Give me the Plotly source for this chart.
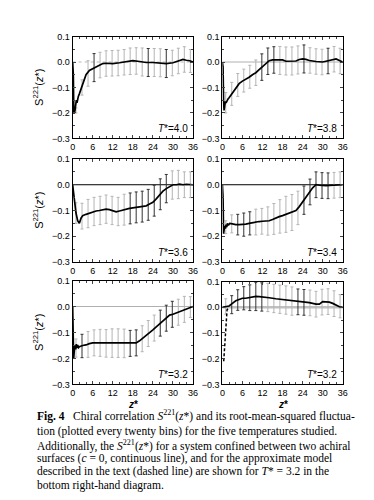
import plotly.graph_objects as go

# ---------------- data ----------------
temps = ["4.0", "3.8", "3.6", "3.4", "3.2", "3.2"]

z1 = [0.0, 0.2, 0.35, 0.5, 0.7, 0.9, 1.1, 1.3, 1.5, 1.7, 2.0, 2.5, 3.0, 3.5, 4.0, 5.0, 6.0, 7.0, 8.0, 9.0, 10, 12, 14, 16, 18, 20, 22, 24, 26, 28, 30, 32, 33, 34, 35, 36]
s1 = [0.0, -0.05, -0.2, -0.2, -0.19, -0.165, -0.15, -0.16, -0.14, -0.135, -0.125, -0.105, -0.085, -0.065, -0.05, -0.033, -0.026, -0.02, -0.012, -0.006, -0.005, -0.006, -0.003, 0.0, 0.005, 0.002, -0.002, -0.002, -0.003, -0.006, -0.003, 0.005, 0.01, 0.007, 0.005, 0.0]

z2 = [0.0, 0.2, 0.35, 0.5, 0.7, 0.9, 1.1, 1.4, 1.7, 2.0, 3.0, 4.0, 5.0, 6.0, 7.0, 8.0, 9.0, 10, 11, 12, 13, 14, 15, 16, 17, 18, 19, 20, 22, 23, 24, 25, 26, 28, 30, 31, 33, 34, 35, 36]
s2 = [0.0, -0.02, -0.15, -0.19, -0.17, -0.155, -0.16, -0.15, -0.145, -0.14, -0.12, -0.1, -0.085, -0.075, -0.068, -0.06, -0.05, -0.042, -0.03, -0.018, -0.005, 0.005, 0.008, 0.008, 0.006, 0.008, 0.003, 0.004, 0.004, 0.01, 0.012, 0.01, 0.006, 0.002, 0.0, 0.003, 0.01, 0.012, 0.006, 0.0]

z3 = [0.0, 0.5, 1.0, 1.5, 2.0, 2.5, 3.0, 4.0, 5.0, 6.0, 7.0, 8.0, 9.0, 10, 11, 12, 13, 14, 15, 16, 17, 18, 19, 20, 21, 22, 23, 24, 25, 26, 27, 28, 29, 30, 31, 32, 33, 34, 36]
s3 = [0.0, -0.06, -0.11, -0.14, -0.15, -0.13, -0.12, -0.115, -0.11, -0.105, -0.102, -0.1, -0.097, -0.095, -0.097, -0.102, -0.105, -0.102, -0.098, -0.095, -0.092, -0.09, -0.088, -0.086, -0.085, -0.082, -0.075, -0.068, -0.055, -0.04, -0.025, -0.015, -0.008, 0.0, 0.0, 0.002, 0.0, 0.002, 0.0]

z4 = [0.0, 0.2, 0.35, 0.5, 0.7, 0.9, 1.1, 1.3, 1.5, 1.8, 2.2, 3.0, 4.0, 5.0, 6.0, 7.0, 8.0, 9.0, 10, 11, 12, 13, 14, 15, 16, 17, 18, 19, 20, 21, 22, 23, 24, 25, 26, 27, 28, 29, 30, 31, 32, 33, 34, 36]
s4 = [0.0, -0.05, -0.19, -0.18, -0.16, -0.17, -0.155, -0.165, -0.15, -0.158, -0.15, -0.152, -0.155, -0.155, -0.155, -0.153, -0.15, -0.147, -0.145, -0.143, -0.142, -0.142, -0.14, -0.135, -0.128, -0.124, -0.12, -0.115, -0.11, -0.107, -0.1, -0.085, -0.065, -0.048, -0.03, -0.012, 0.0, -0.002, -0.004, -0.004, -0.003, -0.002, 0.0, 0.0]

z5 = [0.0, 0.15, 0.3, 0.5, 0.7, 0.9, 1.1, 1.3, 1.5, 1.8, 2.0, 3.0, 4.0, 5.0, 6.0, 7.0, 8.0, 10, 12, 14, 16, 18, 19, 20, 21, 22, 23, 24, 25, 26, 27, 28, 29, 30, 31, 32, 33, 34, 35, 36]
s5 = [0.0, -0.1, -0.2, -0.17, -0.15, -0.165, -0.145, -0.16, -0.148, -0.158, -0.155, -0.15, -0.148, -0.143, -0.14, -0.14, -0.14, -0.142, -0.141, -0.142, -0.142, -0.142, -0.14, -0.132, -0.122, -0.11, -0.1, -0.09, -0.078, -0.066, -0.055, -0.045, -0.033, -0.03, -0.025, -0.02, -0.013, -0.008, -0.003, 0.0]

z6 = [0.0, 1.0, 2.0, 3.0, 4.0, 5.0, 6.0, 7.0, 8.0, 9.0, 10, 11, 12, 14, 16, 18, 20, 22, 24, 26, 28, 29, 30, 31, 32, 33, 34, 35, 36]
s6 = [0.0, 0.003, 0.005, 0.015, 0.025, 0.03, 0.035, 0.035, 0.037, 0.04, 0.042, 0.041, 0.04, 0.037, 0.033, 0.03, 0.025, 0.022, 0.02, 0.018, 0.012, 0.012, 0.022, 0.022, 0.02, 0.015, 0.008, 0.002, 0.0]

# approximate model (dashed line), bottom right panel
z6_model = [0.4, 0.7, 1.0, 1.4, 2.0]
s6_model = [-0.21, -0.14, -0.07, -0.01, 0.0]

# root-mean-squared fluctuation, plotted every twenty bins
zb = [1.0, 2.8, 4.6, 6.4, 8.2, 10.0, 11.8, 13.6, 15.4, 17.2, 19.0, 20.8, 22.6, 24.4, 26.2, 28.0, 29.8, 31.6, 33.4, 35.2]
sb1 = [-0.19, -0.1, -0.045, -0.022, -0.012, -0.006, -0.005, -0.004, -0.001, 0.003, 0.004, 0.0, -0.002, -0.002, -0.003, -0.006, -0.004, 0.004, 0.01, 0.004]
eb1 = [0.01, 0.03, 0.05, 0.055, 0.05, 0.05, 0.05, 0.05, 0.05, 0.052, 0.052, 0.055, 0.055, 0.055, 0.055, 0.055, 0.05, 0.05, 0.05, 0.045]
sb2 = [-0.16, -0.125, -0.09, -0.073, -0.058, -0.042, -0.02, 0.003, 0.008, 0.006, 0.004, 0.004, 0.008, 0.012, 0.006, 0.002, 0.0, 0.004, 0.011, 0.004]
eb2 = [0.04, 0.045, 0.045, 0.045, 0.045, 0.05, 0.052, 0.052, 0.052, 0.055, 0.055, 0.055, 0.055, 0.055, 0.05, 0.05, 0.05, 0.05, 0.05, 0.05]
sb3 = [-0.11, -0.122, -0.112, -0.104, -0.1, -0.095, -0.1, -0.104, -0.097, -0.092, -0.088, -0.085, -0.078, -0.062, -0.037, -0.015, -0.001, 0.001, 0.0, 0.0]
eb3 = [0.04, 0.05, 0.055, 0.055, 0.055, 0.055, 0.055, 0.055, 0.06, 0.06, 0.06, 0.06, 0.06, 0.06, 0.06, 0.055, 0.055, 0.055, 0.05, 0.05]
sb4 = [-0.165, -0.152, -0.155, -0.155, -0.15, -0.145, -0.142, -0.141, -0.133, -0.123, -0.115, -0.108, -0.09, -0.06, -0.028, 0.0, -0.003, -0.004, -0.002, 0.0]
eb4 = [0.025, 0.035, 0.04, 0.045, 0.045, 0.05, 0.05, 0.055, 0.06, 0.065, 0.07, 0.07, 0.065, 0.055, 0.05, 0.05, 0.05, 0.05, 0.05, 0.05]
sb5 = [-0.16, -0.152, -0.146, -0.14, -0.14, -0.142, -0.141, -0.141, -0.142, -0.142, -0.14, -0.124, -0.104, -0.083, -0.064, -0.045, -0.03, -0.022, -0.011, -0.002]
eb5 = [0.035, 0.045, 0.05, 0.05, 0.052, 0.053, 0.055, 0.055, 0.055, 0.05, 0.05, 0.05, 0.05, 0.05, 0.05, 0.05, 0.05, 0.05, 0.05, 0.04]
sb6 = [0.003, 0.01, 0.028, 0.035, 0.037, 0.042, 0.04, 0.038, 0.034, 0.031, 0.028, 0.024, 0.021, 0.019, 0.017, 0.012, 0.02, 0.022, 0.014, 0.004]
eb6 = [0.03, 0.035, 0.04, 0.045, 0.05, 0.055, 0.055, 0.055, 0.055, 0.055, 0.055, 0.055, 0.05, 0.05, 0.05, 0.05, 0.05, 0.05, 0.05, 0.045]

x_ticks = [0, 6, 12, 18, 24, 30, 36]
y_ticks = [0.1, 0.0, -0.1, -0.2, -0.3]
y_tick_text = ["0.1", "0.0", "\u22120.1", "\u22120.2", "\u22120.3"]

curves = [(z1, s1), (z2, s2), (z3, s3), (z4, s4), (z5, s5), (z6, s6)]
bars = [(sb1, eb1), (sb2, eb2), (sb3, eb3), (sb4, eb4), (sb5, eb5), (sb6, eb6)]

# ---------------- layout / styling ----------------
W, H = 374, 500
# panel boxes in pixels (left, right, top, bottom)
boxes = [(63, 186, 24, 128), (216, 339, 24, 128),
         (63, 186, 149, 254), (216, 339, 149, 254),
         (63, 186, 273, 379), (216, 339, 274, 379)]
zero_styles = [dict(color="#b8b8b8", width=1, dash="dot"),
               dict(color="#b0b0b0", width=1),
               dict(color="#000000", width=1),
               dict(color="#000000", width=1),
               dict(color="#b0b0b0", width=1),
               dict(color="#c0c0c0", width=2.5)]
dark_sets = [{3, 12, 15}, {6, 7, 8, 13, 17}, {9, 10, 11, 12, 13, 14, 15},
             {2, 3, 4, 13, 14, 15, 16, 17}, {1, 9, 10, 14, 15, 16}, {1, 2, 3, 4, 5, 6, 12, 13}]

sans = "Liberation Sans, Arial, sans-serif"
serif = "Liberation Serif, Times New Roman, serif"

fig = go.Figure()
shapes = []
annotations = []

for i in range(6):
    ax = "" if i == 0 else str(i + 1)
    xa, ya = "x" + ax, "y" + ax
    l, r, t, b = boxes[i]
    fig.layout["xaxis" + ax] = dict(
        domain=[l / W, r / W], anchor=ya, range=[0, 36],
        tickvals=x_ticks, ticks="inside", ticklen=3, mirror="allticks",
        showline=True, linecolor="black", linewidth=1, showgrid=False, zeroline=False,
        tickfont=dict(family=sans, size=9, color="black"),
        minor=dict(dtick=2, ticks="inside", ticklen=2, showgrid=False),
        fixedrange=True)
    fig.layout["yaxis" + ax] = dict(
        domain=[1 - b / H, 1 - t / H], anchor=xa, range=[-0.3, 0.1],
        tickvals=y_ticks, ticktext=y_tick_text, ticks="inside", ticklen=3, mirror="allticks",
        showline=True, linecolor="black", linewidth=1, showgrid=False, zeroline=False,
        tickfont=dict(family=sans, size=9, color="black"),
        minor=dict(dtick=0.05, ticks="inside", ticklen=2, showgrid=False),
        fixedrange=True)

    # zero reference line
    shapes.append(dict(type="line", xref=xa + " domain", yref=ya, x0=0, x1=1, y0=0, y1=0,
                       line=zero_styles[i], layer="below"))

    sb, eb = bars[i]
    dk = dark_sets[i]
    for dark in (False, True):
        idx = [k for k in range(len(zb)) if (k in dk) == dark]
        fig.add_trace(go.Scatter(
            x=[zb[k] for k in idx], y=[sb[k] for k in idx], xaxis=xa, yaxis=ya,
            mode="markers", marker=dict(size=1, color="rgba(0,0,0,0)"),
            error_y=dict(type="data", array=[eb[k] for k in idx], visible=True,
                         color="#333333" if dark else "#b4b4b4", thickness=1, width=1.5),
            showlegend=False, hoverinfo="skip"))

    zc, sc = curves[i]
    fig.add_trace(go.Scatter(x=zc, y=sc, xaxis=xa, yaxis=ya, mode="lines",
                             line=dict(color="black", width=1.7), showlegend=False))
    if i == 5:
        fig.add_trace(go.Scatter(x=z6_model, y=s6_model, xaxis=xa, yaxis=ya, mode="lines",
                                 line=dict(color="black", width=1.5, dash="3px,2px"),
                                 showlegend=False))

    annotations.append(dict(xref=xa, yref=ya, x=35, y=-0.262, xanchor="right", yanchor="middle",
                            text="<i>T</i>*=" + temps[i], showarrow=False,
                            font=dict(family=sans, size=10, color="black")))
    if i % 2 == 0:
        annotations.append(dict(xref="paper", yref="paper", x=28 / W, y=1 - (t + b) / 2 / H,
                                xanchor="center", yanchor="middle", textangle=-90,
                                text="S<sup>221</sup>(<i>z</i>*)", showarrow=False,
                                font=dict(family=sans, size=11, color="black")))
    if i >= 4:
        annotations.append(dict(xref="paper", yref="paper", x=(l + r) / 2 / W, y=1 - 399 / H,
                                xanchor="center", yanchor="middle",
                                text="<b><i>z</i>*</b>", showarrow=False,
                                font=dict(family=sans, size=10, color="black")))

caption = [
    "<b>Fig. 4</b>   Chiral correlation <i>S</i><sup>221</sup>(<i>z</i>*) and its root-mean-squared fluctua-",
    "tion (plotted every twenty bins) for the five temperatures studied.",
    "Additionally, the <i>S</i><sup>221</sup>(<i>z</i>*) for a system confined between two achiral",
    "surfaces (<i>c</i> = 0, continuous line), and for the approximate model",
    "described in the text (dashed line) are shown for <i>T</i>* = 3.2 in the",
    "bottom right-hand diagram.",
]
cap_y = [411, 427, 441, 455, 468, 482]
for txt, yy in zip(caption, cap_y):
    annotations.append(dict(xref="paper", yref="paper", x=25 / W, y=1 - yy / H,
                            xanchor="left", yanchor="middle", text=txt, showarrow=False,
                            font=dict(family=serif, size=11.5, color="black")))

fig.update_layout(width=W, height=H, margin=dict(l=0, r=0, t=0, b=0),
                  paper_bgcolor="white", plot_bgcolor="white",
                  shapes=shapes, annotations=annotations, showlegend=False)

fig.write_html("out.html", config={"displayModeBar": False})
